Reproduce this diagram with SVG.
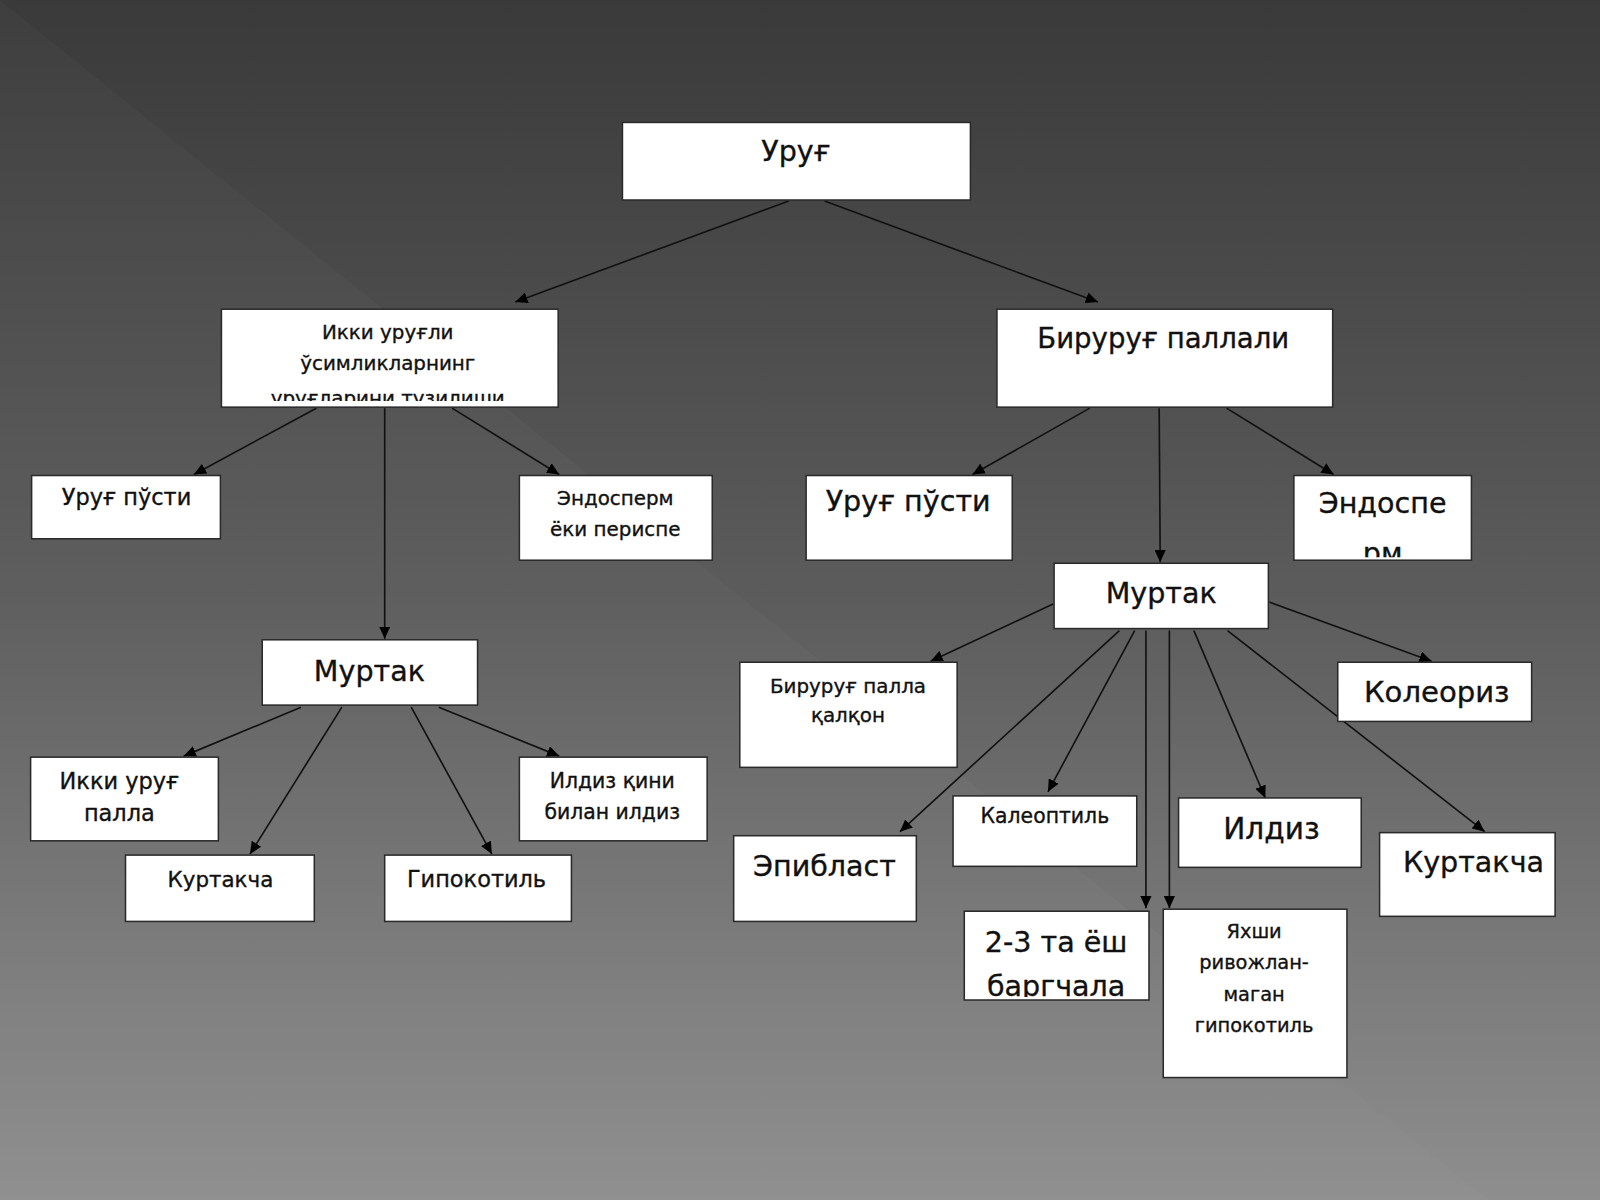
<svg xmlns="http://www.w3.org/2000/svg" width="1600" height="1200" viewBox="0 0 1600 1200">
<defs>
<linearGradient id="bg" x1="0" y1="0" x2="0" y2="1">
<stop offset="0" stop-color="#3a3a3a"/>
<stop offset="0.5" stop-color="#5c5c5c"/>
<stop offset="1" stop-color="#8e8e8e"/>
</linearGradient>
<marker id="ah" markerUnits="userSpaceOnUse" markerWidth="13" markerHeight="11" refX="12" refY="5.5" orient="auto">
<path d="M0,0 L12,5.5 L0,11 z" fill="#000"/>
</marker>
<clipPath id="c1"><rect x="218" y="304" width="328" height="89"/></clipPath>
<clipPath id="c2"><rect x="1269" y="467" width="172" height="79"/></clipPath>
<clipPath id="c3"><rect x="946" y="894" width="179" height="83"/></clipPath>
</defs>
<style>
.box{fill:#fff;stroke:#2a2a2a;stroke-width:1.5}
.t{font-family:"DejaVu Sans","Liberation Sans",sans-serif;fill:#111;text-anchor:middle;stroke:#111;stroke-width:0.35}
.edge{stroke:#111;stroke-width:1.6;fill:none;marker-end:url(#ah)}
</style>
<rect x="0" y="0" width="1600" height="1200" fill="url(#bg)"/>
<polygon points="0,0 1600,1290 0,1200" fill="#fff" opacity="0.025"/>
<g transform="scale(1.020408)">
<g id="connectors">
<line class="edge" x1="773" y1="197" x2="505" y2="296"/>
<line class="edge" x1="808" y1="197" x2="1076" y2="296"/>
<line class="edge" x1="310" y1="400" x2="190" y2="465"/>
<line class="edge" x1="377" y1="400" x2="377" y2="626"/>
<line class="edge" x1="443" y1="400" x2="548" y2="465"/>
<line class="edge" x1="1068" y1="400" x2="953" y2="465"/>
<line class="edge" x1="1136" y1="400" x2="1137" y2="551"/>
<line class="edge" x1="1202" y1="400" x2="1307" y2="465"/>
<line class="edge" x1="295" y1="693" x2="180" y2="741"/>
<line class="edge" x1="335" y1="693" x2="245" y2="837"/>
<line class="edge" x1="403" y1="693" x2="482" y2="837"/>
<line class="edge" x1="430" y1="693" x2="548" y2="741"/>
<line class="edge" x1="1032" y1="592" x2="912" y2="648"/>
<line class="edge" x1="1097" y1="618" x2="882" y2="815"/>
<line class="edge" x1="1112" y1="618" x2="1027" y2="776"/>
<line class="edge" x1="1123" y1="618" x2="1123" y2="890"/>
<line class="edge" x1="1146" y1="618" x2="1146" y2="890"/>
<line class="edge" x1="1170" y1="618" x2="1240" y2="782"/>
<line class="edge" x1="1203" y1="618" x2="1455" y2="815"/>
<line class="edge" x1="1244" y1="590" x2="1403" y2="648"/>
</g>
<g id="n-urug"><rect class="box" x="610" y="120" width="341" height="76"/><text class="t" x="780" y="158" font-size="28">Уруғ</text></g>
<g id="n-ikki"><rect class="box" x="217" y="303" width="330" height="96"/>
<g clip-path="url(#c1)"><text class="t" font-size="19.5"><tspan x="380" y="332">Икки уруғли</tspan><tspan x="380" y="363">ўсимликларнинг</tspan><tspan x="380" y="397">уруғларини тузилиши</tspan></text></g></g>
<g id="n-biru"><rect class="box" x="977" y="303" width="329" height="96"/><text class="t" x="1140" y="341" font-size="27">Бируруғ паллали</text></g>
<g id="n-pusti1"><rect class="box" x="31" y="466" width="185" height="62"/><text class="t" x="124" y="495" font-size="22">Уруғ пўсти</text></g>
<g id="n-endo1"><rect class="box" x="509" y="466" width="189" height="83"/><text class="t" font-size="19.5"><tspan x="603" y="495">Эндосперм</tspan><tspan x="603" y="525">ёки периспе</tspan></text></g>
<g id="n-pusti2"><rect class="box" x="790" y="466" width="202" height="83"/><text class="t" x="890" y="501" font-size="28">Уруғ пўсти</text></g>
<g id="n-endo2"><rect class="box" x="1268" y="466" width="174" height="83"/>
<g clip-path="url(#c2)"><text class="t" font-size="28"><tspan x="1355" y="503">Эндоспе</tspan><tspan x="1355" y="552">рм</tspan></text></g></g>
<g id="n-murtak1"><rect class="box" x="257" y="627" width="211" height="64"/><text class="t" x="362" y="667" font-size="28">Муртак</text></g>
<g id="n-murtak2"><rect class="box" x="1033" y="552" width="210" height="64"/><text class="t" x="1138" y="591" font-size="28">Муртак</text></g>
<g id="n-ikkipalla"><rect class="box" x="30" y="742" width="184" height="82"/><text class="t" font-size="22"><tspan x="117" y="773">Икки уруғ</tspan><tspan x="117" y="805">палла</tspan></text></g>
<g id="n-kurt1"><rect class="box" x="123" y="838" width="185" height="65"/><text class="t" x="216" y="869" font-size="21">Куртакча</text></g>
<g id="n-gipo"><rect class="box" x="377" y="838" width="183" height="65"/><text class="t" x="467" y="869" font-size="22">Гипокотиль</text></g>
<g id="n-ildizqini"><rect class="box" x="509" y="742" width="184" height="82"/><text class="t" font-size="20"><tspan x="600" y="772">Илдиз  қини</tspan><tspan x="600" y="803">билан илдиз</tspan></text></g>
<g id="n-birupalla"><rect class="box" x="725" y="649" width="213" height="103"/><text class="t" font-size="19.5"><tspan x="831" y="679">Бируруғ палла</tspan><tspan x="831" y="708">қалқон</tspan></text></g>
<g id="n-koleoriz"><rect class="box" x="1311" y="649" width="190" height="58"/><text class="t" x="1408" y="688" font-size="28.5">Колеориз</text></g>
<g id="n-epiblast"><rect class="box" x="719" y="819" width="179" height="84"/><text class="t" x="808" y="858" font-size="28">Эпибласт</text></g>
<g id="n-kaleoptil"><rect class="box" x="934" y="780" width="180" height="69"/><text class="t" x="1024" y="807" font-size="20">Калеоптиль</text></g>
<g id="n-ildiz"><rect class="box" x="1155" y="782" width="179" height="68"/><text class="t" x="1246" y="822" font-size="29">Илдиз</text></g>
<g id="n-kurt2"><rect class="box" x="1352" y="816" width="172" height="82"/><text class="t" x="1444" y="855" font-size="28">Куртакча</text></g>
<g id="n-barg"><rect class="box" x="945" y="893" width="181" height="87"/>
<g clip-path="url(#c3)"><text class="t" font-size="28"><tspan x="1035" y="933">2-3 та ёш</tspan><tspan x="1035" y="976">баргчала</tspan></text></g></g>
<g id="n-yaxshi"><rect class="box" x="1140" y="891" width="180" height="165"/><text class="t" font-size="19"><tspan x="1229" y="919">Яхши</tspan><tspan x="1229" y="950">ривожлан-</tspan><tspan x="1229" y="981">маган</tspan><tspan x="1229" y="1011">гипокотиль</tspan></text></g>
</g>
</svg>
